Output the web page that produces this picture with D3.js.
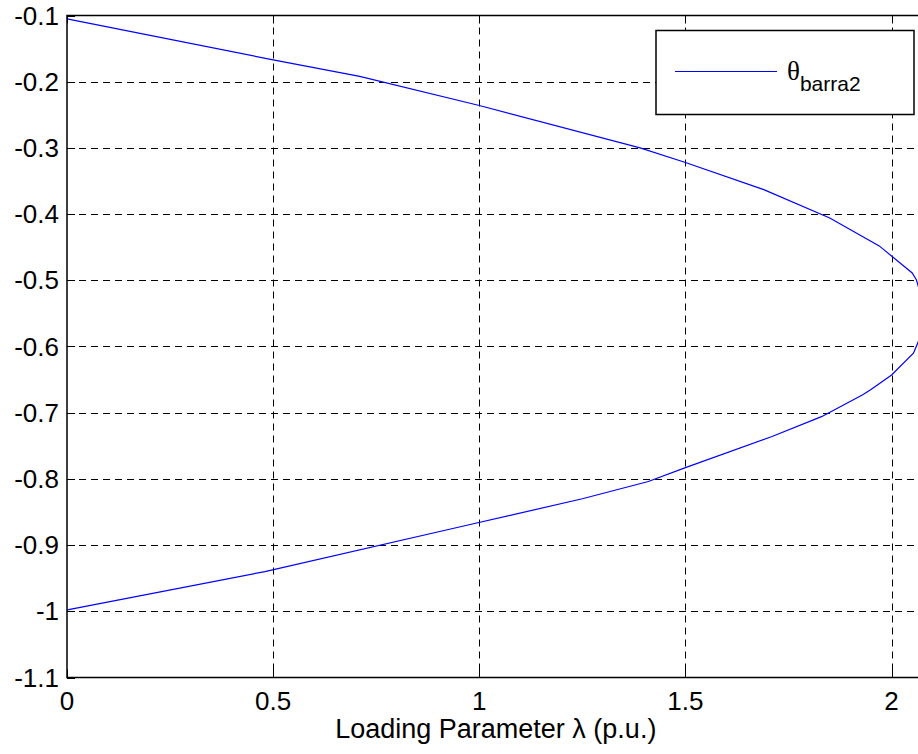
<!DOCTYPE html>
<html>
<head>
<meta charset="utf-8">
<script src="https://cdn.jsdelivr.net/npm/d3@7"></script>
<style>
  body { margin: 0; background: #fff; }
  svg { display: block; font-family: "Liberation Sans", Arial, sans-serif; }
</style>
</head>
<body>
<div id="chart"></div>
<script>
// curve: upper branch, nose, lower branch
const lambda = [0, 0.50, 0.71, 1.00, 1.39, 1.50, 1.69, 1.85, 1.97, 2.05, 2.06, 2.072, 2.078, 2.072, 2.053, 2.00, 1.95, 1.93, 1.83, 1.71, 1.50, 1.41, 1.25, 0.97, 0.48, 0.007, 0];
const theta = [-0.105, -0.167, -0.192, -0.236, -0.300, -0.322, -0.363, -0.406, -0.448, -0.489, -0.499, -0.525, -0.553, -0.582, -0.610, -0.643, -0.665, -0.673, -0.706, -0.736, -0.783, -0.804, -0.830, -0.870, -0.940, -0.997, -0.998];

const xTicks = [0, 0.5, 1, 1.5, 2];
const yTicks = [-1.1, -1, -0.9, -0.8, -0.7, -0.6, -0.5, -0.4, -0.3, -0.2, -0.1];
const legendLabel = 'θ';
const legendSub = 'barra2';
const xLabel = 'Loading Parameter λ (p.u.)';

const width = 918, height = 754;
const plotLeft = 67, plotTop = 15.5, plotBottom = 677.5;

const x = d3.scaleLinear().domain([0, 2.08]).range([plotLeft, plotLeft + 2.08 * 412.3]);
const y = d3.scaleLinear().domain([-1.1, -0.1]).range([plotBottom, plotTop]);
const plotRight = x.range()[1];

const svg = d3.select('#chart').append('svg')
    .attr('width', width)
    .attr('height', height);

// grid
const grid = svg.append('g')
    .attr('stroke', '#000')
    .attr('stroke-width', 1)
    .attr('stroke-dasharray', '7,5');

grid.selectAll('line.gx')
    .data(xTicks.slice(1))
    .join('line')
    .attr('x1', d => Math.round(x(d)) + 0.5)
    .attr('x2', d => Math.round(x(d)) + 0.5)
    .attr('y1', plotTop)
    .attr('y2', plotBottom);

grid.selectAll('line.gy')
    .data(yTicks.slice(1, -1))
    .join('line')
    .attr('x1', plotLeft)
    .attr('x2', plotRight)
    .attr('y1', d => Math.round(y(d)) + 0.5)
    .attr('y2', d => Math.round(y(d)) + 0.5);

// curve
const points = lambda.map((l, i) => [l, theta[i]]);
svg.append('path')
    .datum(points)
    .attr('fill', 'none')
    .attr('stroke', '#0000ff')
    .attr('stroke-width', 1.2)
    .attr('d', d3.line().x(d => x(d[0])).y(d => y(d[1])));

// axes box and ticks
svg.append('rect')
    .attr('x', plotLeft)
    .attr('y', plotTop)
    .attr('width', plotRight - plotLeft)
    .attr('height', plotBottom - plotTop)
    .attr('fill', 'none')
    .attr('stroke', '#000')
    .attr('stroke-width', 1.5);

const ticks = svg.append('g').attr('stroke', '#000').attr('stroke-width', 1);
ticks.selectAll('line.bt')
    .data(xTicks)
    .join('line')
    .attr('x1', d => Math.round(x(d)) + 0.5)
    .attr('x2', d => Math.round(x(d)) + 0.5)
    .attr('y1', plotBottom)
    .attr('y2', plotBottom - 8);
ticks.selectAll('line.tt')
    .data(xTicks)
    .join('line')
    .attr('x1', d => Math.round(x(d)) + 0.5)
    .attr('x2', d => Math.round(x(d)) + 0.5)
    .attr('y1', plotTop)
    .attr('y2', plotTop + 8);
ticks.selectAll('line.lt')
    .data(yTicks)
    .join('line')
    .attr('x1', plotLeft)
    .attr('x2', plotLeft + 8)
    .attr('y1', d => Math.round(y(d)) + 0.5)
    .attr('y2', d => Math.round(y(d)) + 0.5);

// tick labels
svg.append('g').selectAll('text')
    .data(xTicks)
    .join('text')
    .attr('x', d => x(d))
    .attr('y', plotBottom + 32.5)
    .attr('text-anchor', 'middle')
    .style('font-size', '26px')
    .text(d => String(d));

svg.append('g').selectAll('text')
    .data(yTicks)
    .join('text')
    .attr('x', plotLeft - 8)
    .attr('y', d => y(d) + 9)
    .attr('text-anchor', 'end')
    .style('font-size', '26px')
    .text(d => String(+d.toFixed(1)));

// x label
svg.append('text')
    .attr('x', (plotLeft + plotRight) / 2)
    .attr('y', 738)
    .attr('text-anchor', 'middle')
    .style('font-size', '27px')
    .text(xLabel);

// legend
const legend = svg.append('g');
legend.append('rect')
    .attr('x', 656)
    .attr('y', 30.5)
    .attr('width', 258)
    .attr('height', 84)
    .attr('fill', '#fff')
    .attr('stroke', '#000')
    .attr('stroke-width', 1.5);
legend.append('line')
    .attr('x1', 675)
    .attr('x2', 777)
    .attr('y1', 71.5)
    .attr('y2', 71.5)
    .attr('stroke', '#0000ff')
    .attr('stroke-width', 1.2);
const lt = legend.append('text')
    .attr('x', 787)
    .attr('y', 80)
    .style('font-size', '26px');
lt.append('tspan')
    .style('font-family', '"Liberation Serif", "Times New Roman", serif')
    .style('font-size', '27px')
    .text(legendLabel);
lt.append('tspan')
    .attr('dy', 11)
    .style('font-size', '21px')
    .text(legendSub);
</script>
</body>
</html>
